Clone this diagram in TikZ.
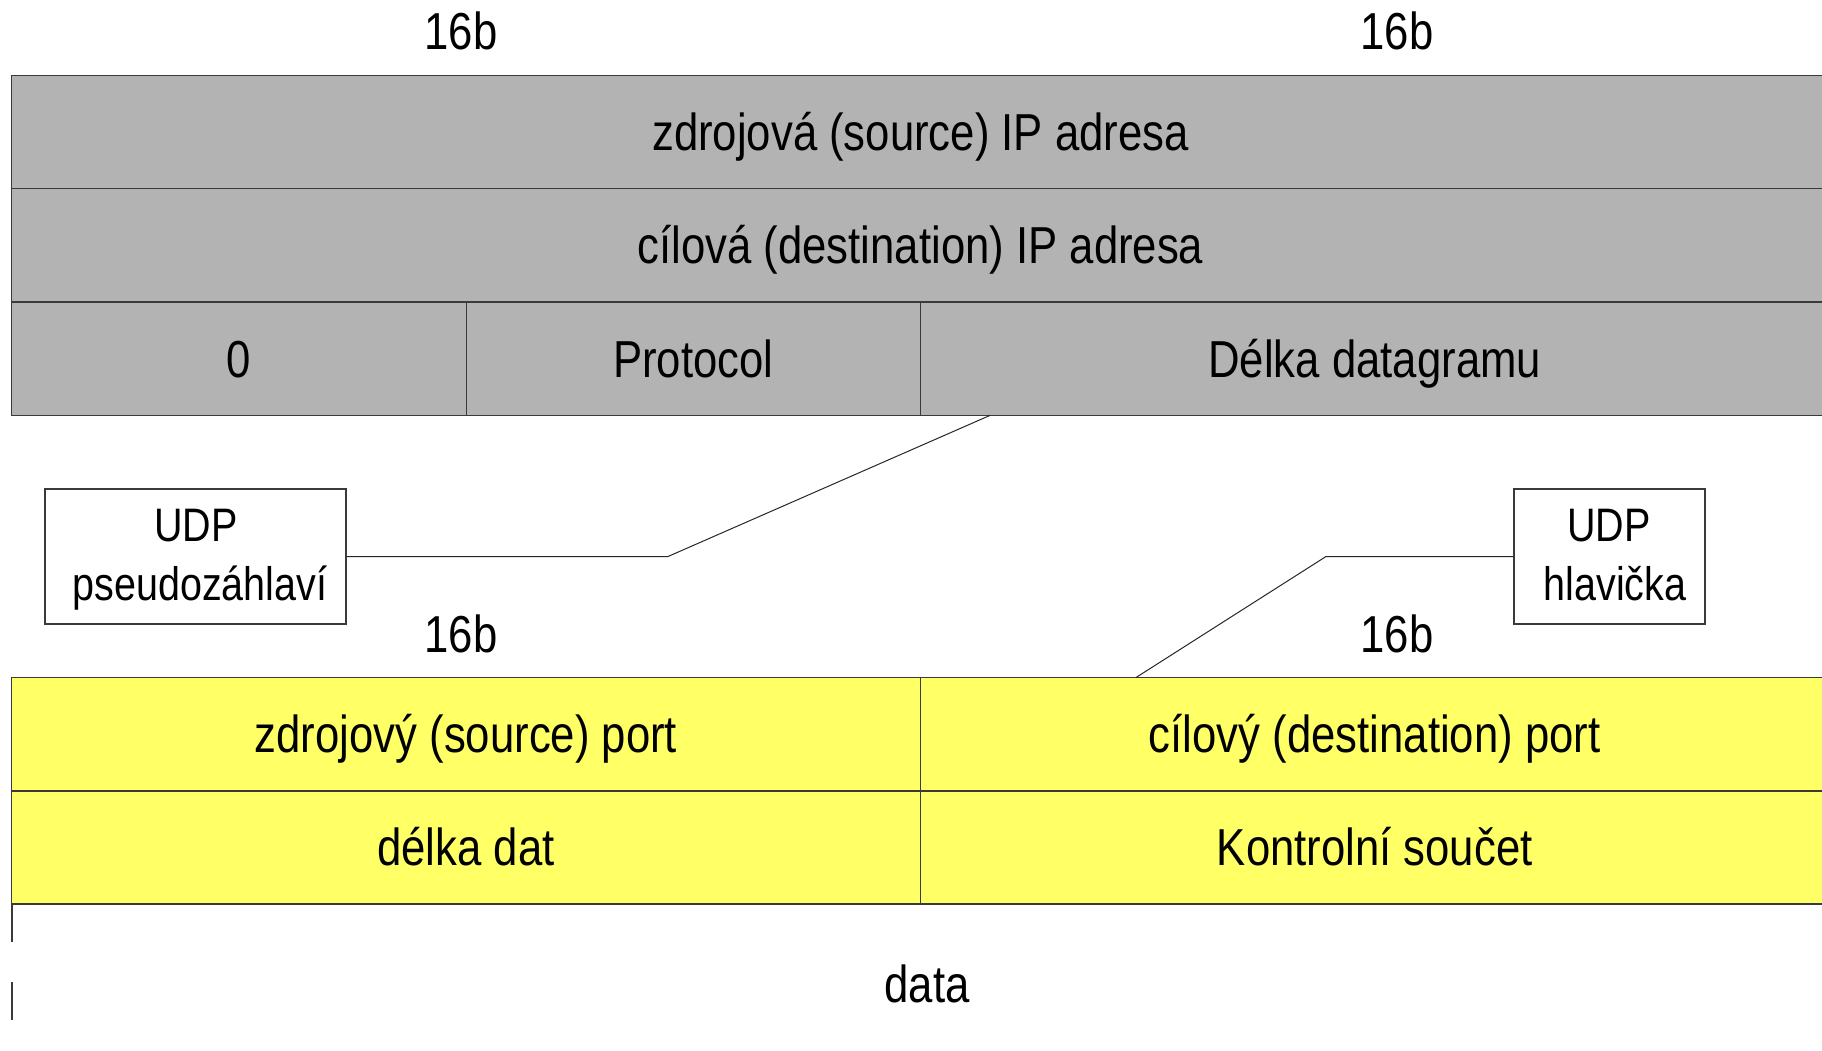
\documentclass[tikz,border=0pt]{standalone}
\usepackage{fontspec}
\setmainfont[FakeStretch=0.84]{Liberation Sans}
\definecolor{cellgray}{HTML}{B3B3B3}
\definecolor{cellyellow}{HTML}{FFFF66}
\definecolor{edgegray}{HTML}{3A3A3A}
\begin{document}
\begin{tikzpicture}[x=1pt,y=-1pt,
  bigtext/.style={font=\fontsize{52}{60}\selectfont},
  smalltext/.style={font=\fontsize{47}{54}\selectfont},
  cell/.style={draw=edgegray, line width=1.4pt, inner sep=0pt, bigtext,
    text height=37pt, text depth=0pt, minimum height=113.3pt},
  graycell/.style={cell, fill=cellgray},
  yellowcell/.style={cell, fill=cellyellow},
  notebox/.style={draw=edgegray, line width=1.2pt, fill=white, inner sep=0pt,
    minimum height=135pt},
  conn/.style={draw=black!85, line width=1pt},
  plain/.style={inner sep=0pt, anchor=base}
]
\useasboundingbox (0,0) rectangle (1822,1051);
\clip (0,0) rectangle (1822,1051);

% bit-width labels
\node[plain, bigtext] (w1) at (461,49.5) {16b};
\node[plain, bigtext] (w2) at (1397,49.5) {16b};

% IP pseudo-header
\node[graycell, minimum width=1818pt] (srcip) at (920.5,132.15) {zdrojová (source) IP adresa};
\node[graycell, minimum width=1818pt] (dstip) at (920.5,245.45) {cílová (destination) IP adresa};
\node[graycell, minimum width=454.5pt] (zero) at (239,358.75) {0};
\node[graycell, minimum width=454pt] (proto) at (693.25,358.75) {Protocol};
\node[graycell, minimum width=909pt] (dlen) at (1374.75,358.75) {Délka datagramu};

% second width labels
\node[plain, bigtext] (w3) at (461,652) {16b};
\node[plain, bigtext] (w4) at (1397,652) {16b};

% UDP header
\node[yellowcell, minimum width=908.5pt] (sport) at (466,734.15) {zdrojový (source) port};
\node[yellowcell, minimum width=909pt] (dport) at (1374.75,734.15) {cílový (destination) port};
\node[yellowcell, minimum width=908.5pt] (ulen) at (466,847.45) {délka dat};
\node[yellowcell, minimum width=909pt] (csum) at (1374.75,847.45) {Kontrolní součet};

% data
\node[plain, bigtext] (data) at (927,1002) {data};
\draw[draw=edgegray, line width=1.2pt] (12,904) -- (12,942);
\draw[draw=edgegray, line width=1.2pt] (12,982) -- (12,1020);

% callout boxes
\node[notebox, minimum width=301pt] (pseudo) at (195.5,556.5) {};
\node[plain, smalltext] (pseudo1) at (196,541.5) {UDP};
\node[plain, smalltext] (pseudo2) at (200,600) {pseudozáhlaví};

\node[notebox, minimum width=191pt] (udph) at (1609.5,556.5) {};
\node[plain, smalltext] (udph1) at (1609,541.5) {UDP};
\node[plain, smalltext] (udph2) at (1615,600) {hlavička};

% connectors
\coordinate (p1) at (668,556.5);
\coordinate (p2) at (990,415.4);
\draw[conn] (pseudo.east) -- (p1) -- (p2);
\coordinate (h1) at (1326,556.5);
\coordinate (h2) at (1136,677.5);
\draw[conn] (udph.west) -- (h1) -- (h2);
\end{tikzpicture}
\end{document}
